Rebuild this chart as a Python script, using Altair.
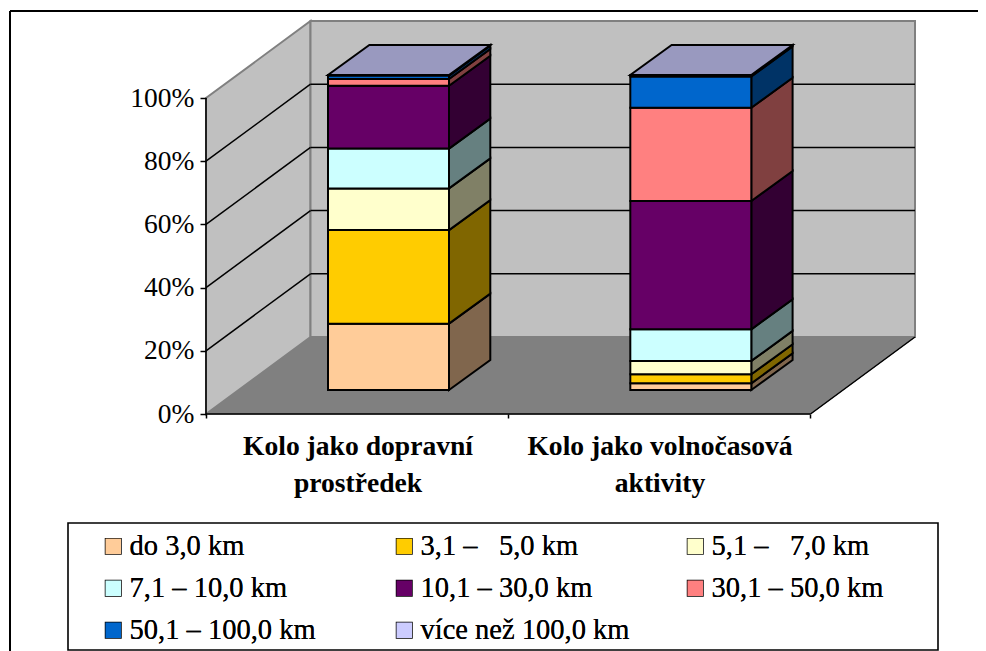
import altair as alt
import pandas as pd

# ---- values (percent of respondents) ----
categories = ["Kolo jako dopravní\nprostředek", "Kolo jako volnočasová\naktivity"]
series = ["do 3,0 km", "3,1 –\u00a0\u00a0\u00a05,0 km", "5,1 –\u00a0\u00a0\u00a07,0 km", "7,1 – 10,0 km",
          "10,1 – 30,0 km", "30,1 – 50,0 km", "50,1 – 100,0 km", "více než 100,0 km"]
doprava = [21.0, 29.6, 13.2, 12.6, 19.9, 2.1, 1.1, 0.2]
volny = [2.1, 2.9, 4.2, 10.0, 40.6, 29.5, 9.9, 0.5]
front_colors = ["#FFCC99", "#FFCC00", "#FFFFCC", "#CCFFFF", "#660066", "#FF8080", "#0066CC", "#CCCCFF"]
side_colors = ["#80664D", "#806600", "#808066", "#668080", "#330033", "#804040", "#003366", "#666680"]
top_colors = ["#9999BF", "#9999BF"]
y_ticks = [0, 20, 40, 60, 80, 100]

# ---- geometry of the pseudo-3D frame ----
PX = 3.16                # pixels per percent
W, H = 970, 643
BASE_Y = 414
X0, X1 = 206, 810.5      # front floor edge
DX, DZ = 104.5, 77 / PX  # depth of the box
BAR_L = [328, 630.3]
BAR_W = 121
BAR_DX, BAR_DZ = 41.3, 30 / PX
BAR_BASE = 24 / PX
FONT = "Liberation Serif"
LW = 2

xs = alt.Scale(domain=[8, 8 + W], range=[0, W], nice=False, zero=False)
ys = alt.Scale(domain=[(BASE_Y - 8 - H) / PX, (BASE_Y - 8) / PX], range=[H, 0], nice=False, zero=False)

x_axis = alt.Axis(values=[206, 508, 810], labels=False, domain=False, title=None, grid=False,
                  tickColor="black", tickWidth=1.5, tickSize=4, offset=-(H - (BASE_Y - 8)), zindex=1)
y_axis = alt.Axis(values=y_ticks, domain=False, title=None, grid=False, tickColor="black",
                  tickWidth=1.5, tickSize=6, offset=-(X0 - 8), zindex=1, labelFont=FONT,
                  labelFontSize=27.5, labelColor="black", labelPadding=6,
                  labelExpr="datum.value + '%'")


def X(f):
    return alt.X(f, type="quantitative", scale=xs, axis=x_axis)


def Y(f):
    return alt.Y(f, type="quantitative", scale=ys, stack=False, axis=y_axis)


X2 = lambda f: alt.X2(f)
Y2 = lambda f: alt.Y2(f)
yv = lambda py: (BASE_Y - py) / PX

# floor
floor = alt.Chart(pd.DataFrame({"y": [0, DZ], "x": [X0, X0 + DX], "x2": [X1, X1 + DX]})).mark_area(
    orient="horizontal", color="#808080", stroke="#6a6a6a", strokeWidth=1).encode(
    y=Y("y"), x=X("x"), x2=X2("x2"))
# walls
back = alt.Chart(pd.DataFrame({"x": [X0 + DX, X1 + DX], "y": [DZ, DZ], "y2": [100 + DZ, 100 + DZ]})).mark_area(
    orient="vertical", color="#C0C0C0", stroke="#808080", strokeWidth=2).encode(
    x=X("x"), y=Y("y"), y2=Y2("y2"))
side = alt.Chart(pd.DataFrame({"x": [X0, X0 + DX], "y": [0, DZ], "y2": [100, 100 + DZ]})).mark_area(
    orient="vertical", color="#C0C0C0", stroke="#808080", strokeWidth=2).encode(
    x=X("x"), y=Y("y"), y2=Y2("y2"))

# gridlines on the walls
grid_rows = []
for t in y_ticks[1:-1]:
    grid_rows += [{"g": f"s{t}", "x": X0, "y": t}, {"g": f"s{t}", "x": X0 + DX, "y": t + DZ},
                  {"g": f"b{t}", "x": X0 + DX, "y": t + DZ}, {"g": f"b{t}", "x": X1 + DX, "y": t + DZ}]
grid = alt.Chart(pd.DataFrame(grid_rows)).mark_line(color="black", strokeWidth=1.5).encode(
    x=X("x"), y=Y("y"), detail="g:N")

# right floor edge and axis lines
edge_rows = [{"g": "e", "x": X1, "y": 0}, {"g": "e", "x": X1 + DX, "y": DZ},
             {"g": "ax", "x": X0, "y": 0}, {"g": "ax", "x": X1, "y": 0},
             {"g": "ay", "x": X0, "y": 0}, {"g": "ay", "x": X0, "y": 100}]
edges = alt.Chart(pd.DataFrame(edge_rows)).mark_line(color="black", strokeWidth=1.5).encode(
    x=X("x"), y=Y("y"), detail="g:N")

# bars
front, sides, tops = [], [], []
for c, vals in enumerate([doprava, volny]):
    lo = BAR_BASE
    L = BAR_L[c]
    R = L + BAR_W
    for i, v in enumerate(vals):
        hi = lo + v
        front.append({"series": series[i], "x": L, "x2": R, "y": lo, "y2": hi})
        k = f"{c}-{i}"
        sides.append({"k": k, "fill": side_colors[i], "x": R, "y": lo, "y2": hi})
        sides.append({"k": k, "fill": side_colors[i], "x": R + BAR_DX, "y": lo + BAR_DZ, "y2": hi + BAR_DZ})
        lo = hi
    tops.append({"k": c, "fill": top_colors[c], "y": lo, "x": L, "x2": R})
    tops.append({"k": c, "fill": top_colors[c], "y": lo + BAR_DZ, "x": L + BAR_DX, "x2": R + BAR_DX})

side_faces = alt.Chart(pd.DataFrame(sides)).mark_area(orient="vertical", stroke="black", strokeWidth=LW, opacity=1).encode(
    x=X("x"), y=Y("y"), y2=Y2("y2"), detail="k:N", fill=alt.Fill("fill:N", scale=None))
top_faces = alt.Chart(pd.DataFrame(tops)).mark_area(orient="horizontal", stroke="black", strokeWidth=LW, opacity=1).encode(
    y=Y("y"), x=X("x"), x2=X2("x2"), detail="k:N", fill=alt.Fill("fill:N", scale=None))

legend = alt.Legend(orient="none", legendX=99 - 8, legendY=532 - 8, columns=3,
                    direction="horizontal", gridAlign="all", title=None,
                    symbolType="square", symbolSize=240, symbolStrokeWidth=1.5, symbolOpacity=1,
                    labelFont=FONT, labelFontSize=28.5, labelColor="black",
                    labelLimit=400, labelOffset=2, columnPadding=51, rowPadding=13,
                    padding=0)
front_faces = alt.Chart(pd.DataFrame(front)).mark_rect(strokeWidth=LW, opacity=1).encode(
    x=X("x"), x2=X2("x2"), y=Y("y"), y2=Y2("y2"),
    color=alt.Color("series:N", scale=alt.Scale(domain=series, range=front_colors), legend=legend),
    stroke=alt.Stroke("series:N", scale=alt.Scale(domain=series, range=["#000000"] * len(series)), legend=legend))

# category labels
cat_labels = alt.Chart(pd.DataFrame({"c": categories, "x": [358, 660], "y": [yv(455)] * 2})).mark_text(
    font=FONT, fontSize=27.6, fontWeight="bold", color="black", lineBreak="\n", lineHeight=37,
    align="center", baseline="alphabetic").encode(x=X("x"), y=Y("y"), text="c:N")

# outer frame and legend box
frame = alt.Chart(pd.DataFrame([
    {"g": "t", "x": 10, "y": yv(11)}, {"g": "t", "x": 8 + W, "y": yv(11)},
    {"g": "l", "x": 10, "y": yv(11)}, {"g": "l", "x": 10, "y": yv(8 + H)}])).mark_line(
    color="black", strokeWidth=2).encode(x=X("x"), y=Y("y"), detail="g:N")
legend_box = alt.Chart(pd.DataFrame({"x": [68], "x2": [938], "y": [yv(523)], "y2": [yv(650)]})).mark_rect(
    fillOpacity=0, stroke="black", strokeWidth=1.6).encode(x=X("x"), x2=X2("x2"), y=Y("y"), y2=Y2("y2"))

chart = alt.layer(frame, legend_box, floor, side, back, grid, edges, side_faces, top_faces, front_faces,
                  cat_labels).resolve_scale(color="independent", fill="independent").properties(
    width=W, height=H, autosize=alt.AutoSizeParams(type="none"), padding=0, background="white"
).configure_view(stroke=None)

chart.save("out.html", embed_options={"renderer": "svg", "actions": False})
